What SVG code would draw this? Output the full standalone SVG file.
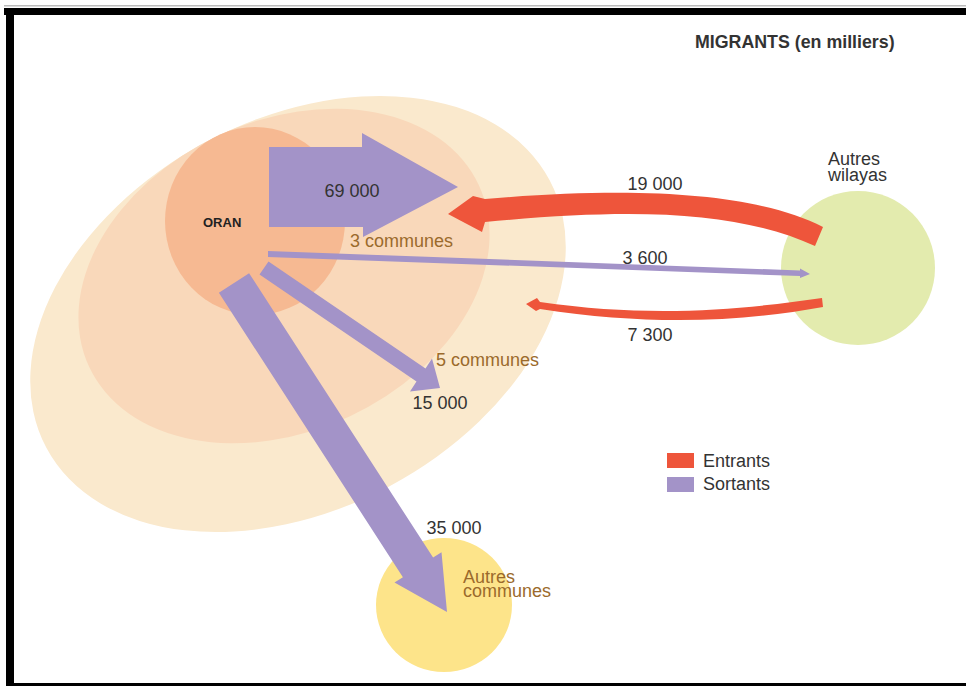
<svg xmlns="http://www.w3.org/2000/svg" width="966" height="686" viewBox="0 0 966 686">
<style>
text{font-family:"Liberation Sans",Arial,sans-serif;}
.num{font-size:18px;fill:#333333;}
.brn{font-size:18px;fill:#9b6a2c;}
.out{fill:#a393c8;}
.in{fill:#ee553b;}
</style>
<rect x="0" y="0" width="966" height="686" fill="#ffffff"/>
<g id="frame">
<rect x="4" y="5" width="962" height="1.5" fill="#bbbbbb"/>
<rect x="4" y="8" width="962" height="7" fill="#000000"/>
<rect x="6" y="8" width="8" height="678" fill="#000000"/>
<rect x="6" y="683" width="960" height="3" fill="#000000"/>
</g>
<g id="zone-5-communes"><ellipse cx="298" cy="314" rx="285" ry="195" transform="rotate(-28 298 314)" fill="#fae9cd"/><text class="brn" x="436" y="366">5 communes</text></g>
<g id="zone-3-communes"><ellipse cx="284" cy="276" rx="215" ry="155" transform="rotate(-25 284 276)" fill="#f9d8ba"/><text class="brn" x="350" y="247">3 communes</text></g>
<g id="oran"><ellipse cx="255" cy="221" rx="90" ry="94" fill="#f6b992"/><text x="203" y="227" font-size="13" font-weight="bold" fill="#222">ORAN</text></g>
<g id="autres-wilayas"><circle cx="858" cy="268" r="77" fill="#e3ebae"/><text class="num" x="828" y="165">Autres</text><text class="num" x="828" y="181">wilayas</text></g>
<g id="autres-communes"><ellipse cx="444" cy="605" rx="68" ry="67" fill="#fde48a"/><text class="brn" x="463" y="583">Autres</text><text class="brn" x="463" y="597">communes</text></g>
<g id="connectors">
<polygon class="out" points="269,147 362,147 362,133 458,187 363,237 363,227 269,227"/>
<polygon class="out" points="268,251 800,270.5 800,268.5 810,274 800,278 800,276 268,257"/>
<polygon class="out" points="268.5,261.4 425.5,368.4 432,358.5 440,388 410,391.5 416.5,381.6 259.5,274.6"/>
<polygon class="out" points="249.1,273.2 433.1,557.6 441.5,552.2 447,612 394.5,582.6 402.9,577.2 218.9,292.8"/>
<path class="in" d="M823,227 C760,195 650,185 485,199 L473,196 L448,214 L482,232 L485,222 C640,207 740,212 815,246 Z"/>
<path class="in" d="M822,298 C740,310 650,318 540,302 L537,298 L526,304 L536,311 L540,309 C650,326 740,322 823,307 Z"/>
</g>
<g id="labels">
<text class="num" x="352" y="197" text-anchor="middle">69 000</text>
<text class="num" x="655" y="190" text-anchor="middle">19 000</text>
<text class="num" x="645" y="264" text-anchor="middle">3 600</text>
<text class="num" x="650" y="341" text-anchor="middle">7 300</text>
<text class="num" x="440" y="409" text-anchor="middle">15 000</text>
<text class="num" x="454" y="534" text-anchor="middle">35 000</text>
<text x="695" y="48" font-size="17.8" font-weight="bold" fill="#333">MIGRANTS (en milliers)</text>
</g>
<g id="legend">
<rect class="in" x="667" y="453" width="27" height="15"/>
<rect class="out" x="667" y="477" width="27" height="15"/>
<text class="num" x="703" y="467">Entrants</text>
<text class="num" x="703" y="490">Sortants</text>
</g>
</svg>
